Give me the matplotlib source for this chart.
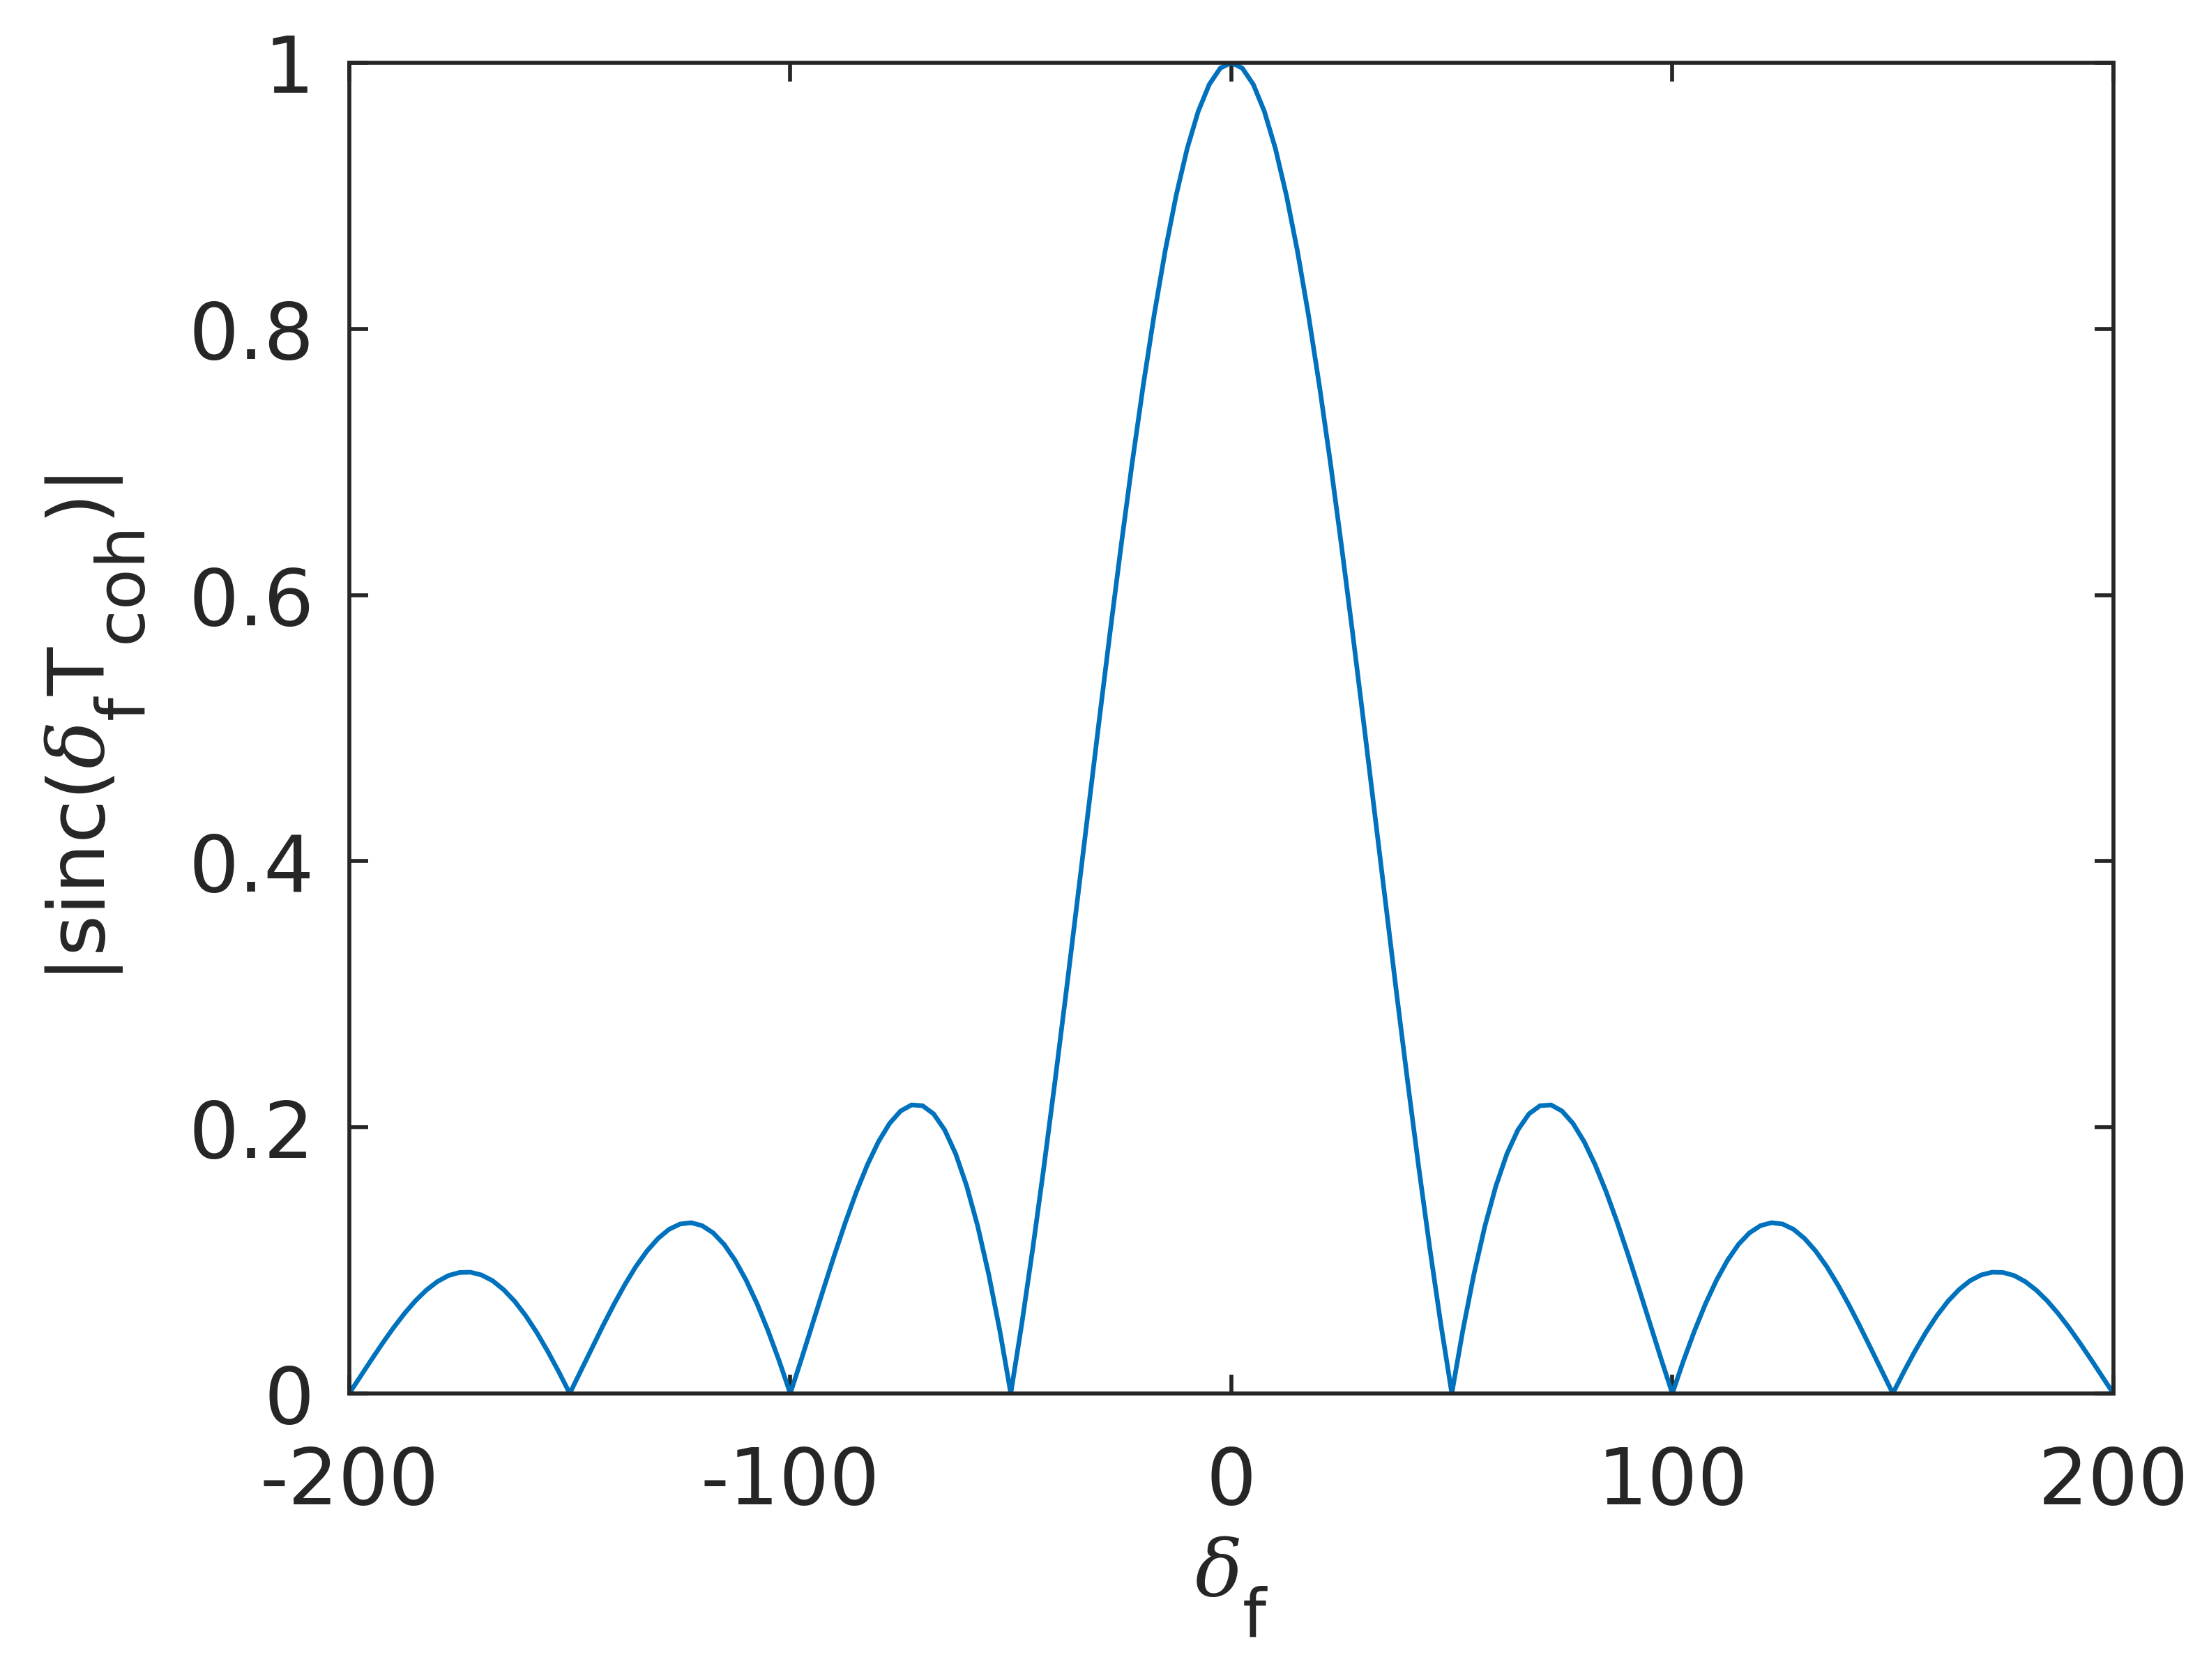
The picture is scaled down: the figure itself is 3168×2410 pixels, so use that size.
import matplotlib
matplotlib.use('Agg')
import matplotlib.pyplot as plt
import matplotlib._mathtext as mathtext_mod

plt.rcParams['font.family'] = 'DejaVu Sans'
plt.rcParams['mathtext.fontset'] = 'custom'
plt.rcParams['mathtext.rm'] = 'DejaVu Sans'
plt.rcParams['mathtext.it'] = 'DejaVu Serif:italic'
# MATLAB-style subscripts: nearly full size and dropped well below the baseline
mathtext_mod.SHRINK_FACTOR = 0.85
for name in dir(mathtext_mod):
    obj = getattr(mathtext_mod, name)
    if isinstance(obj, type) and name.endswith('FontConstants') or name == 'FontConstantsBase':
        obj.sub1 = 1.0

# sample points of delta_f and |sinc|
delta_f = [
    -200, -197.5, -195, -192.5, -190, -187.5, -185, -182.5, -180, -177.5,
    -175, -172.5, -170, -167.5, -165, -162.5, -160, -157.5, -155, -152.5,
    -150, -147.5, -145, -142.5, -140, -137.5, -135, -132.5, -130, -127.5,
    -125, -122.5, -120, -117.5, -115, -112.5, -110, -107.5, -105, -102.5,
    -100, -97.5, -95, -92.5, -90, -87.5, -85, -82.5, -80, -77.5,
    -75, -72.5, -70, -67.5, -65, -62.5, -60, -57.5, -55, -52.5,
    -50, -47.5, -45, -42.5, -40, -37.5, -35, -32.5, -30, -27.5,
    -25, -22.5, -20, -17.5, -15, -12.5, -10, -7.5, -5, -2.5,
    0,
    2.5, 5, 7.5, 10, 12.5, 15, 17.5, 20, 22.5, 25,
    27.5, 30, 32.5, 35, 37.5, 40, 42.5, 45, 47.5, 50,
    52.5, 55, 57.5, 60, 62.5, 65, 67.5, 70, 72.5, 75,
    77.5, 80, 82.5, 85, 87.5, 90, 92.5, 95, 97.5, 100,
    102.5, 105, 107.5, 110, 112.5, 115, 117.5, 120, 122.5, 125,
    127.5, 130, 132.5, 135, 137.5, 140, 142.5, 145, 147.5, 150,
    152.5, 155, 157.5, 160, 162.5, 165, 167.5, 170, 172.5, 175,
    177.5, 180, 182.5, 185, 187.5, 190, 192.5, 195, 197.5, 200,
]
sinc_abs = [
    0.0000, 0.0126, 0.0252, 0.0375, 0.0492, 0.0600, 0.0696, 0.0777, 0.0841, 0.0886,
    0.0909, 0.0911, 0.0890, 0.0847, 0.0780, 0.0693, 0.0585, 0.0459, 0.0317, 0.0163,
    0.0000, 0.0169, 0.0339, 0.0507, 0.0668, 0.0818, 0.0954, 0.1070, 0.1164, 0.1233,
    0.1273, 0.1283, 0.1261, 0.1207, 0.1120, 0.1000, 0.0850, 0.0672, 0.0468, 0.0243,
    0.0000, 0.0255, 0.0518, 0.0781, 0.1039, 0.1286, 0.1515, 0.1719, 0.1892, 0.2028,
    0.2122, 0.2168, 0.2162, 0.2101, 0.1981, 0.1801, 0.1559, 0.1257, 0.0894, 0.0474,
    0.0000, 0.0524, 0.1093, 0.1700, 0.2339, 0.3001, 0.3679, 0.4363, 0.5046, 0.5716,
    0.6366, 0.6987, 0.7568, 0.8103, 0.8584, 0.9003, 0.9355, 0.9634, 0.9836, 0.9959,
    1.0000,
    0.9959, 0.9836, 0.9634, 0.9355, 0.9003, 0.8584, 0.8103, 0.7568, 0.6987, 0.6366,
    0.5716, 0.5046, 0.4363, 0.3679, 0.3001, 0.2339, 0.1700, 0.1093, 0.0524, 0.0000,
    0.0474, 0.0894, 0.1257, 0.1559, 0.1801, 0.1981, 0.2101, 0.2162, 0.2168, 0.2122,
    0.2028, 0.1892, 0.1719, 0.1515, 0.1286, 0.1039, 0.0781, 0.0518, 0.0255, 0.0000,
    0.0243, 0.0468, 0.0672, 0.0850, 0.1000, 0.1120, 0.1207, 0.1261, 0.1283, 0.1273,
    0.1233, 0.1164, 0.1070, 0.0954, 0.0818, 0.0668, 0.0507, 0.0339, 0.0169, 0.0000,
    0.0163, 0.0317, 0.0459, 0.0585, 0.0693, 0.0780, 0.0847, 0.0890, 0.0911, 0.0909,
    0.0886, 0.0841, 0.0777, 0.0696, 0.0600, 0.0492, 0.0375, 0.0252, 0.0126, 0.0000,
]

x_ticks = [-200, -100, 0, 100, 200]
x_ticklabels = ['-200', '-100', '0', '100', '200']
y_ticks = [0, 0.2, 0.4, 0.6, 0.8, 1]
y_ticklabels = ['0', '0.2', '0.4', '0.6', '0.8', '1']

axis_col = '#262626'

fig = plt.figure(figsize=(13.2, 10.0458), dpi=240)
ax = fig.add_axes([0.1581, 0.1705, 0.7986, 0.7918])

ax.plot(delta_f, sinc_abs, color=(0, 0.447, 0.741), linewidth=2.0)

ax.set_xlim(-200, 200)
ax.set_ylim(0, 1)
ax.set_xticks(x_ticks)
ax.set_xticklabels(x_ticklabels)
ax.set_yticks(y_ticks)
ax.set_yticklabels(y_ticklabels)

for s in ax.spines.values():
    s.set_linewidth(1.7)
    s.set_color(axis_col)
ax.tick_params(direction='in', top=True, right=True, length=8, width=1.7,
               color=axis_col, labelcolor=axis_col, labelsize=34)
ax.tick_params(axis='x', pad=22)
ax.tick_params(axis='y', pad=15)

ax.set_xlabel(r'$\delta_{\rm f}$', fontsize=34, color=axis_col, labelpad=6)
ax.set_ylabel(r'|sinc($\delta_{\rm f}$T$_{\rm coh}$)|', fontsize=34,
              color=axis_col, labelpad=18)

fig.savefig('out.png', dpi=240)
